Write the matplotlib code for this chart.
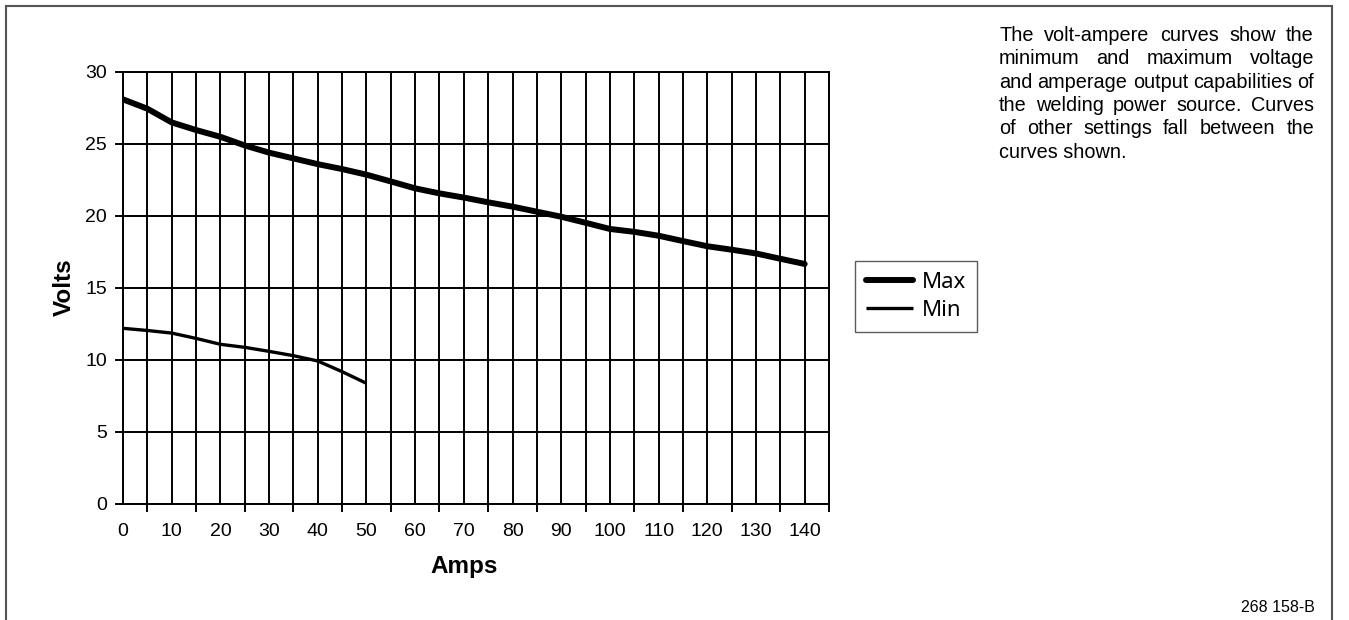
import matplotlib
matplotlib.use("Agg")
import matplotlib.pyplot as plt
from matplotlib.patches import Rectangle

plt.rcParams['font.family'] = ['Liberation Sans', 'DejaVu Sans']

# volt-ampere data
amps_max = [0, 5, 10, 15, 20, 25, 30, 35, 40, 45, 50, 55, 60, 65, 70,
            75, 80, 85, 90, 95, 100, 105, 110, 115, 120, 125, 130, 135, 140]
volts_max = [28.1, 27.45, 26.5, 25.97, 25.5, 24.9, 24.4, 24.0, 23.6, 23.26,
             22.87, 22.4, 21.92, 21.57, 21.28, 20.95, 20.65, 20.3, 19.95,
             19.53, 19.1, 18.9, 18.63, 18.26, 17.9, 17.66, 17.4, 17.03, 16.67]
amps_min = [0, 5, 10, 15, 20, 25, 30, 35, 40, 45, 50]
volts_min = [12.2, 12.05, 11.87, 11.5, 11.09, 10.88, 10.6, 10.3, 9.93, 9.19, 8.38]

x_labels = list(range(0, 141, 10))
y_labels = list(range(0, 31, 5))

note_lines = ["The volt-ampere curves show the",
              "minimum and maximum voltage",
              "and amperage output capabilities of",
              "the welding power source. Curves",
              "of other settings fall between the",
              "curves shown."]
fig_code = "268 158-B"

W, H = 1349, 620
fig = plt.figure(figsize=(W / 100, H / 100), dpi=100)

def fx(px):
    return px / W

def fy(py):
    return 1 - py / H

ax = fig.add_axes([fx(123), fy(504), fx(829) - fx(123), fy(72) - fy(504)])

ax.plot(amps_max, volts_max, color='black', lw=4.3, solid_capstyle='round',
        solid_joinstyle='round', label='Max', zorder=5)
ax.plot(amps_min, volts_min, color='black', lw=2.4, solid_capstyle='butt',
        solid_joinstyle='round', label='Min', zorder=5)

ax.set_xlim(0, 145)
ax.set_ylim(0, 30)
ax.set_xticks(x_labels)
ax.set_xticks([v + 5 for v in x_labels], minor=True)
ax.set_yticks(y_labels)
ax.tick_params(axis='x', which='major', length=0, pad=14, labelsize=14)
ax.tick_params(axis='x', which='minor', length=6, width=1.4, direction='out')
ax.tick_params(axis='y', which='major', length=6, width=1.4, pad=5.5, labelsize=14)
ax.grid(True, which='both', axis='x', color='black', lw=1.4)
ax.grid(True, which='major', axis='y', color='black', lw=1.4)
for sp in ax.spines.values():
    sp.set_linewidth(1.4)
    sp.set_color('black')

fig.text(fx(64.5), fy(287.5), "Volts", rotation=90, ha='center', va='center',
         fontsize=17.5, fontweight='bold')
fig.text(fx(464.5), fy(567), "Amps", ha='center', va='center',
         fontsize=17.5, fontweight='bold')

leg = ax.legend(loc='center', bbox_to_anchor=(fx(916), fy(296.5)),
                bbox_transform=fig.transFigure, frameon=True, fancybox=False,
                prop={'family': 'Noto Sans', 'size': 16}, handlelength=2.1,
                handletextpad=0.4, labelspacing=0.3, borderpad=0.5)
leg.get_frame().set_edgecolor('#333333')
leg.get_frame().set_linewidth(1.0)

# justified note text on the right
renderer = fig.canvas.get_renderer()
left_px, right_px = 999, 1314
base_y = 41
note_size = 14.3
for i, line in enumerate(note_lines):
    y = fy(base_y + i * 23.3)
    words = line.split()
    if i == len(note_lines) - 1:
        fig.text(fx(left_px), y, line, fontsize=note_size, ha='left', va='baseline')
        continue
    texts = [fig.text(0, y, w, fontsize=note_size, ha='left', va='baseline')
             for w in words]
    widths = [t.get_window_extent(renderer).width for t in texts]
    gap = (right_px - left_px - sum(widths)) / (len(words) - 1)
    xpos = left_px
    for t, w in zip(texts, widths):
        t.set_x(fx(xpos))
        xpos += w + gap

fig.text(fx(1315), fy(608), fig_code, fontsize=11.5, ha='right', va='center')

# outer frame
fig.add_artist(Rectangle((fx(5.5), fy(640)), fx(1332) - fx(5.5), fy(5.5) - fy(640),
                         transform=fig.transFigure, fill=False,
                         edgecolor='#555555', lw=1.5))

fig.savefig("out.png", dpi=100)
